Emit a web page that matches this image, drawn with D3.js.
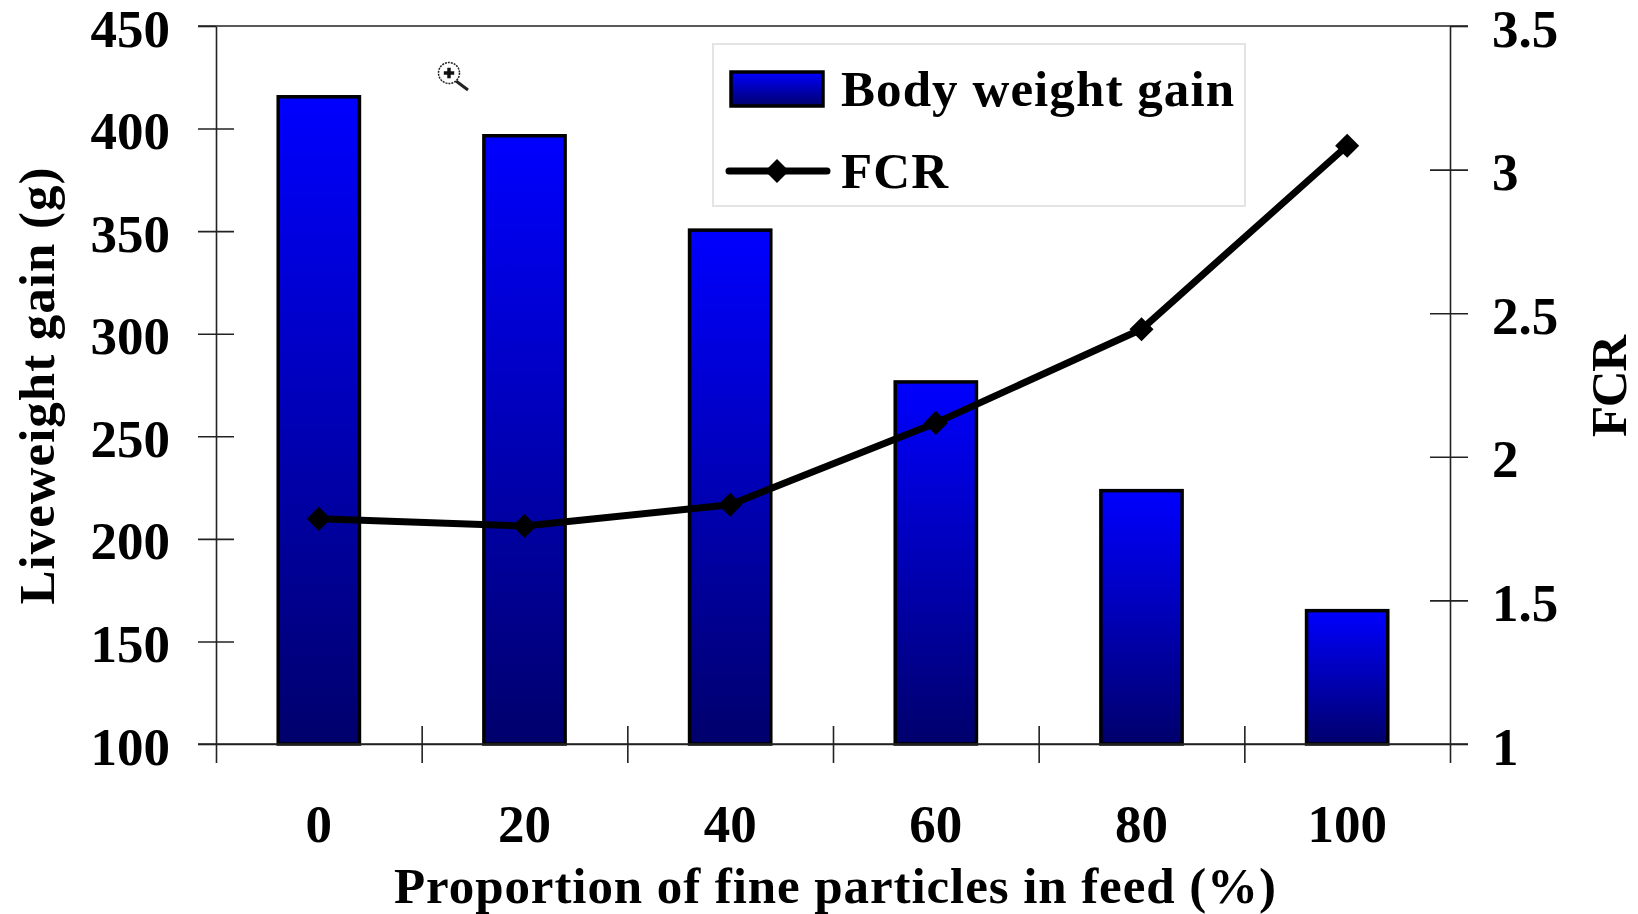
<!DOCTYPE html>
<html>
<head>
<meta charset="utf-8">
<script src="https://cdn.jsdelivr.net/npm/d3@7"></script>
<style>
  html, body { margin: 0; padding: 0; background: #fff; }
  svg { display: block; }
  text { font-family: "Liberation Serif", serif; font-weight: bold; fill: #000; }
  .axis .domain, .axis line { stroke: #222; stroke-width: 1.6; }
  .axis text { font-family: "Liberation Serif", serif; font-size: 53px; }
</style>
</head>
<body>
<svg width="1638" height="914"></svg>
<script>
var categories = ['0', '20', '40', '60', '80', '100'];
var bodyWeightGain = [415.5, 396.5, 350.5, 276.5, 223.5, 165];
var fcr = [1.784, 1.759, 1.833, 2.118, 2.444, 3.083];
var leftTicks = [100, 150, 200, 250, 300, 350, 400, 450];
var rightTicks = [1, 1.5, 2, 2.5, 3, 3.5];

var svg = d3.select('svg');
var plotLeft = 216, plotRight = 1450, plotTop = 26, plotBottom = 744;

var x = d3.scaleBand().domain(categories).range([plotLeft, plotRight]).paddingInner(0.605).paddingOuter(0.3025);
// x axis tick marks sit between the categories
var xEdges = d3.scaleLinear().domain([0, categories.length]).range([plotLeft, plotRight]);
var y = d3.scaleLinear().domain([100, 450]).range([plotBottom, plotTop]);
var yFcr = d3.scaleLinear().domain([1, 3.5]).range([plotBottom, plotTop]);

var grad = svg.append('defs').append('linearGradient')
  .attr('id', 'barFill')
  .attr('x1', 0).attr('y1', 0).attr('x2', 0).attr('y2', 1);
grad.append('stop').attr('offset', '0%').attr('stop-color', '#0000ff');
grad.append('stop').attr('offset', '100%').attr('stop-color', '#00006c');

// bars
svg.append('g')
  .selectAll('rect')
  .data(bodyWeightGain)
  .enter()
  .append('rect')
  .attr('x', function (d, i) { return x(categories[i]); })
  .attr('y', function (d) { return y(d); })
  .attr('width', x.bandwidth())
  .attr('height', function (d) { return plotBottom - y(d); })
  .attr('fill', 'url(#barFill)')
  .attr('stroke', '#000')
  .attr('stroke-width', 3.5);

// left axis, ticks cross the line
var leftAxis = svg.append('g')
  .attr('class', 'axis')
  .attr('transform', 'translate(' + plotLeft + ',0)')
  .call(d3.axisLeft(y).tickValues(leftTicks).tickSizeOuter(0).tickPadding(0));
leftAxis.selectAll('line').attr('x1', -18).attr('x2', function (d) { return d === 100 || d === 450 ? 0 : 18; });
leftAxis.selectAll('text').attr('x', -46).attr('dy', 20).attr('text-anchor', 'end');

// right axis
var rightAxis = svg.append('g')
  .attr('class', 'axis')
  .attr('transform', 'translate(' + plotRight + ',0)')
  .call(d3.axisRight(yFcr).tickValues(rightTicks).tickFormat(function (d) { return d; }).tickSizeOuter(0));
rightAxis.selectAll('line').attr('x1', function (d) { return d === 1 || d === 3.5 ? 0 : -20; }).attr('x2', 18);
rightAxis.selectAll('text').attr('x', 42).attr('dy', 20).attr('text-anchor', 'start');

// bottom axis: tick marks
var bottomTicks = svg.append('g')
  .attr('class', 'axis')
  .attr('transform', 'translate(0,' + plotBottom + ')')
  .call(d3.axisBottom(xEdges).tickValues(d3.range(categories.length + 1)).tickFormat('').tickSizeOuter(0));
bottomTicks.selectAll('line').attr('y1', function (d) { return d === 0 || d === categories.length ? 0 : -18; }).attr('y2', 19);

// bottom axis: labels
var bottomLabels = svg.append('g')
  .attr('class', 'axis')
  .attr('transform', 'translate(0,' + plotBottom + ')')
  .call(d3.axisBottom(x).tickSize(0));
bottomLabels.select('.domain').remove();
bottomLabels.selectAll('text').attr('y', 98).attr('dy', 0);

// frame lines top and bottom, past the axes
svg.append('g')
  .attr('class', 'axis')
  .selectAll('line')
  .data([plotTop, plotBottom])
  .enter()
  .append('line')
  .attr('x1', plotLeft - 18).attr('x2', plotRight + 18)
  .attr('y1', function (d) { return d; })
  .attr('y2', function (d) { return d; });

// FCR line
var line = d3.line()
  .x(function (d, i) { return x(categories[i]) + x.bandwidth() / 2; })
  .y(function (d) { return yFcr(d); });

svg.append('path')
  .datum(fcr)
  .attr('d', line)
  .attr('fill', 'none')
  .attr('stroke', '#000')
  .attr('stroke-width', 7)
  .attr('stroke-linejoin', 'round');

var diamond = d3.symbol().type(d3.symbolDiamond2).size(370);

svg.append('g')
  .selectAll('path')
  .data(fcr)
  .enter()
  .append('path')
  .attr('d', diamond)
  .attr('fill', '#000')
  .attr('transform', function (d, i) {
    return 'translate(' + (x(categories[i]) + x.bandwidth() / 2) + ',' + yFcr(d) + ')';
  });

// axis titles
svg.append('text')
  .attr('transform', 'translate(54,386) rotate(-90)')
  .attr('text-anchor', 'middle')
  .attr('font-size', 51)
  .attr('textLength', 437)
  .text('Liveweight gain (g)');

svg.append('text')
  .attr('transform', 'translate(1626,386) rotate(-90)')
  .attr('text-anchor', 'middle')
  .attr('font-size', 51)
  .attr('textLength', 102)
  .text('FCR');

svg.append('text')
  .attr('x', 835)
  .attr('y', 903)
  .attr('text-anchor', 'middle')
  .attr('font-size', 51)
  .attr('textLength', 882)
  .text('Proportion of fine particles in feed (%)');

// legend
var legend = svg.append('g');

legend.append('rect')
  .attr('x', 713).attr('y', 44)
  .attr('width', 532).attr('height', 162)
  .attr('fill', '#fff')
  .attr('stroke', '#e4e4e4')
  .attr('stroke-width', 2);

legend.append('rect')
  .attr('x', 731).attr('y', 72)
  .attr('width', 92).attr('height', 34)
  .attr('fill', 'url(#barFill)')
  .attr('stroke', '#000')
  .attr('stroke-width', 3.5);

legend.append('line')
  .attr('x1', 729).attr('x2', 827)
  .attr('y1', 171).attr('y2', 171)
  .attr('stroke', '#000')
  .attr('stroke-width', 7)
  .attr('stroke-linecap', 'round');

legend.append('path')
  .attr('d', diamond)
  .attr('fill', '#000')
  .attr('transform', 'translate(777,171)');

legend.append('text')
  .attr('x', 841).attr('y', 106)
  .attr('font-size', 51)
  .attr('textLength', 393)
  .text('Body weight gain');

legend.append('text')
  .attr('x', 841).attr('y', 188)
  .attr('font-size', 51)
  .attr('textLength', 107)
  .text('FCR');

// the zoom cursor caught in the screenshot
var cursor = svg.append('g').attr('transform', 'translate(449,73)');
cursor.append('line')
  .attr('x1', 7).attr('y1', 8).attr('x2', 19).attr('y2', 17)
  .attr('stroke', '#222').attr('stroke-width', 3);
cursor.append('circle')
  .attr('r', 10.5)
  .attr('fill', '#fff')
  .attr('stroke', '#222')
  .attr('stroke-width', 1.5)
  .attr('stroke-dasharray', '2 1');
cursor.append('path')
  .attr('d', d3.symbol().type(d3.symbolCross).size(60))
  .attr('fill', '#111');
</script>
</body>
</html>
